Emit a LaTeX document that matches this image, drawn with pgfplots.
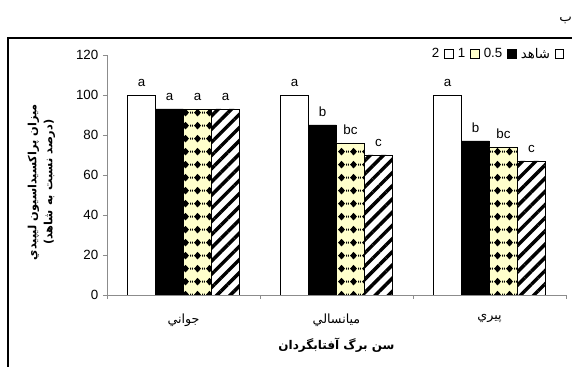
\documentclass[border=0pt]{standalone}
\usepackage{fontspec}
\setmainfont{Liberation Sans}
\newfontfamily\arabicfont[Script=Arabic]{DejaVu Sans}
\TeXXeTstate=1
\usepackage{pgfplots}
\pgfplotsset{compat=1.18}
\usetikzlibrary{patterns.meta}
\definecolor{paleyellow}{RGB}{255,255,204}
\definecolor{axisgray}{RGB}{140,140,140}
\tikzdeclarepattern{
  name=diamonds,
  type=uncolored,
  bounding box={(0pt,0pt) and (9pt,10pt)},
  tile size={(9pt,10pt)},
  code={
    \fill (4.5pt,2.0pt) -- (7.3pt,5pt) -- (4.5pt,8.0pt) -- (1.7pt,5pt) -- cycle;
    \fill (0pt,4.2pt) rectangle (0.8pt,5.8pt);
    \fill (8.2pt,4.2pt) rectangle (9pt,5.8pt);
  }
}
\begin{document}
\begin{tikzpicture}[x=1pt,y=1pt]
\useasboundingbox (-80.25,-54) rectangle (348.75,221.25);
\draw[line width=1.5pt] (-74.25,-70) -- (-74.25,192.75) -- (370,192.75);
\node at (344,206) {\arabicfont\beginR ب\endR};
\begin{axis}[
  at={(0,0)}, anchor=south west,
  scale only axis, width=344.25pt, height=180pt,
  xmin=0.5, xmax=3.5, ymin=0, ymax=120,
  axis x line=bottom, axis y line=left,
  axis line style={-, axisgray},
  tick style={axisgray, thin},
  tick align=outside,
  major tick length=3pt,
  ytick={0,20,...,120},
  xtick={0.5,1.5,2.5,3.5},
  x tick label as interval,
  xticklabels={{\arabicfont\beginR جواني\endR},{\arabicfont\beginR ميانسالي\endR},{\arabicfont\beginR پيري\endR}},
  xticklabel style={font=\fontsize{9.5}{10}\selectfont, yshift=-8pt},
  yticklabel style={font=\fontsize{10}{12}\selectfont},
  /pgf/number format/assume math mode=true,
  xlabel={\arabicfont\bfseries\beginR سن برگ آفتابگردان\endR},
  xlabel style={at={(axis description cs:0.5,-0.208)}, anchor=center, font=\fontsize{9}{11}\selectfont},
  ylabel={\arabicfont\bfseries\beginR ميزان پراكسيداسيون ليپيدي\endR\\\arabicfont\bfseries\beginR (درصد نسبت به شاهد)\endR},
  ylabel style={at={(axis description cs:-0.143,0.47)}, anchor=center, rotate=0, align=center, font=\fontsize{8.5}{12}\selectfont},
  ybar=0pt, bar width=21pt,
  nodes near coords,
  point meta=explicit symbolic,
  every node near coord/.append style={font=\fontsize{10}{12}\selectfont, yshift=3pt, color=black},
  legend style={at={(axis description cs:1.005,1.052)}, anchor=north east, draw=none, fill=none,
    font=\fontsize{10}{12}\selectfont, /tikz/column sep=1.5pt},
  legend columns=4,
  legend plot pos=right,
  legend image code/.code={\draw[#1] (0pt,-3pt) rectangle (6.5pt,3.5pt);},
]
\addlegendimage{draw=black, fill=white}
\addlegendentry{2}
\addlegendimage{draw=black, fill=paleyellow}
\addlegendentry{1}
\addlegendimage{draw=black, fill=black}
\addlegendentry{0.5}
\addlegendimage{draw=black, fill=white}
\addlegendentry{\arabicfont\beginR شاهد\endR}
\addplot[draw=black, fill=white]
  coordinates {(1,100) [a] (2,100) [a] (3,100) [a]};
\addplot[draw=black, fill=black]
  coordinates {(1,93) [a] (2,85) [b] (3,77) [b]};
\addplot[draw=black, fill=paleyellow, postaction={pattern=diamonds, pattern color=black}]
  coordinates {(1,93) [a] (2,76) [bc] (3,74) [bc]};
\addplot[draw=black, fill=white, postaction={pattern={Lines[angle=45,distance=7pt,line width=2.6pt]}, pattern color=black}]
  coordinates {(1,93) [a] (2,70) [c] (3,67) [c]};
\end{axis}
\end{tikzpicture}
\end{document}
